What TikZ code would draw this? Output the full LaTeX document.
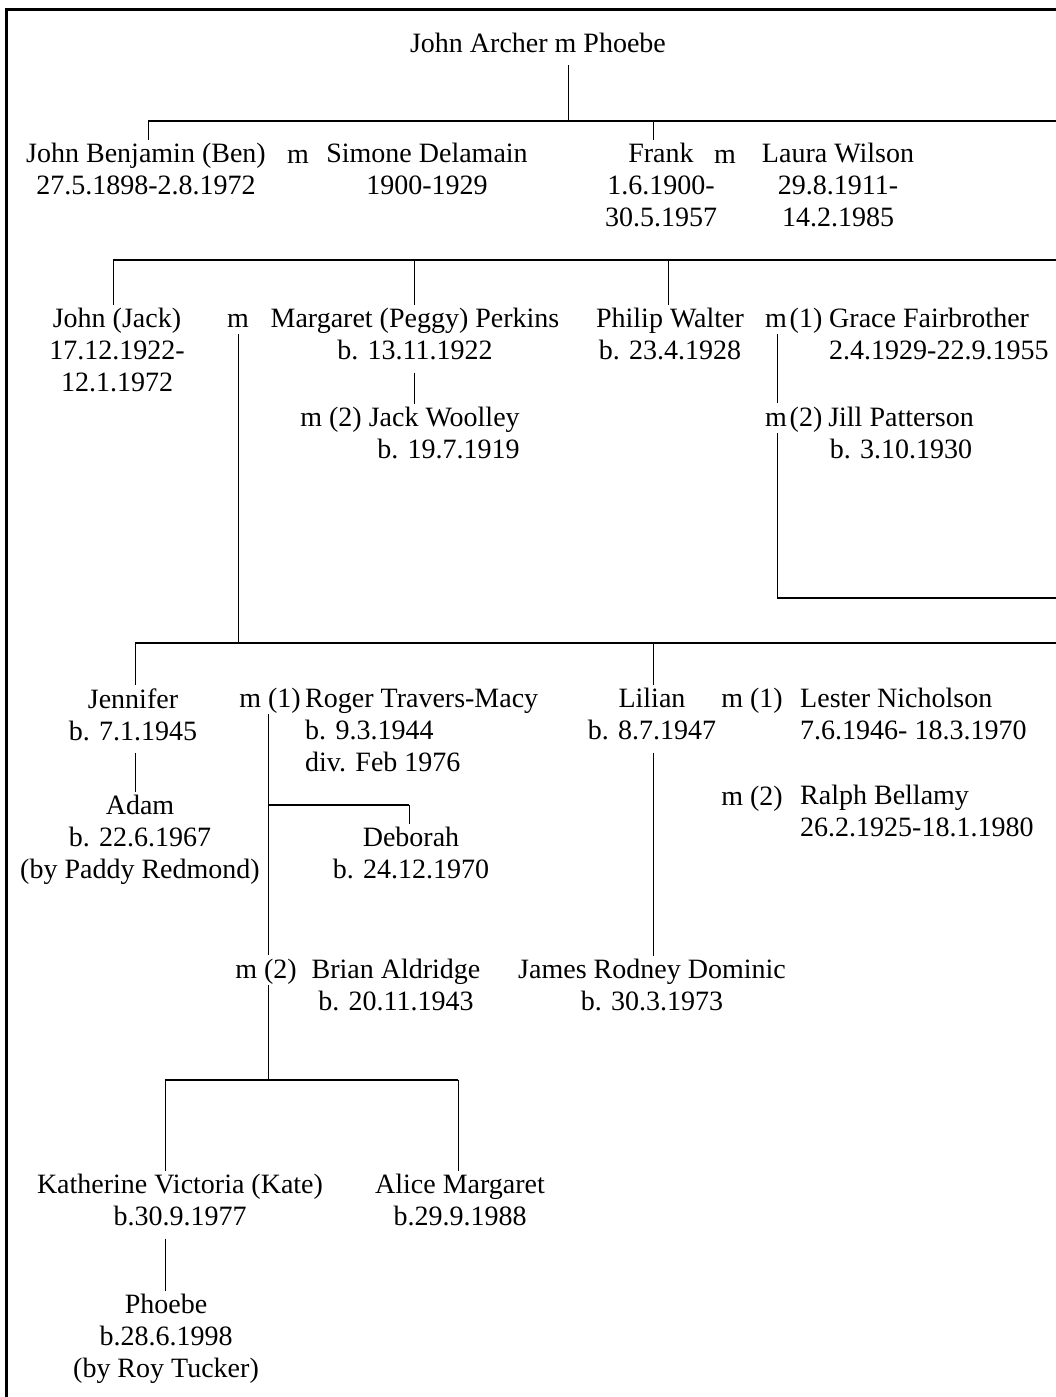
\documentclass[tikz,border=0pt]{standalone}
\usepackage{fontspec}
\setmainfont{Liberation Serif}
\usepackage{tikz}

\tikzset{
	person/.style={align=center, inner xsep=2pt, inner ysep=3pt, execute at end node=\strut},
	partner/.style={person, align=left, anchor=west},
	wed/.style={inner xsep=2pt, inner ysep=4pt, text height=19.4pt, text depth=2pt},
	bus/.style={line width=1.6pt},
	drop/.style={line width=0.9pt},
}

\begin{document}
\begin{tikzpicture}[x=1pt,y=-1pt,font=\fontsize{28}{32}\selectfont]
	\useasboundingbox (0,0) rectangle (1056,1397);
	\draw[line width=3pt] (6,1400) -- (6,10) -- (1060,10);

	\node[person] (archer) at (538,46) {John Archer m Phoebe};

	\node[person] (ben) at (146,174) {John Benjamin (Ben)\\27.5.1898-2.8.1972};
	\node[wed] (benm) at (298,155) {m};
	\node[person] (simone) at (427,174) {Simone Delamain\\1900-1929};
	\node[person] (frank) at (661,190) {Frank\\1.6.1900-\\30.5.1957};
	\node[wed] (frankm) at (725,155) {m};
	\node[person] (laura) at (838,190) {Laura Wilson\\29.8.1911-\\14.2.1985};

	\node[person] (jack) at (117,355) {John (Jack)\\17.12.1922-\\12.1.1972};
	\node[wed] (jackm) at (238,319) {m};
	\node[person] (peggy) at (415,339) {Margaret (Peggy) Perkins\\b. 13.11.1922};
	\node[person, align=right] (woolley) at (410,438) {m (2) Jack Woolley\\b. 19.7.1919};
	\node[person] (philip) at (670,339) {Philip Walter\\b. 23.4.1928};
	\node[wed] (philm1) at (776,319) {m};
	\node[wed] (philn1) at (806,319) {(1)};
	\node[partner] (grace) at (827,339) {Grace Fairbrother\\2.4.1929-22.9.1955};
	\node[wed] (philm2) at (776,418) {m};
	\node[wed] (philn2) at (806,418) {(2)};
	\node[person] (jill) at (901,438) {Jill Patterson\\b. 3.10.1930};

	\node[person] (jennifer) at (133,719) {Jennifer\\b. 7.1.1945};
	\node[wed] (jenm1) at (270,699) {m (1)};
	\node[partner] (roger) at (303,735) {Roger Travers-Macy\\b. 9.3.1944\\div. Feb 1976};
	\node[person] (adam) at (140,842) {Adam\\b. 22.6.1967\\(by Paddy Redmond)};
	\node[person] (deborah) at (411,858) {Deborah\\b. 24.12.1970};
	\node[wed] (jenm2) at (266,970) {m (2)};
	\node[person] (brian) at (396,990) {Brian Aldridge\\b. 20.11.1943};
	\node[person] (lilian) at (652,719) {Lilian\\b. 8.7.1947};
	\node[wed] (lilm1) at (752,699) {m (1)};
	\node[partner] (lester) at (798,719) {Lester Nicholson\\7.6.1946- 18.3.1970};
	\node[wed] (lilm2) at (752,797) {m (2)};
	\node[partner] (ralph) at (798,816) {Ralph Bellamy\\26.2.1925-18.1.1980};
	\node[person] (james) at (652,990) {James Rodney Dominic\\b. 30.3.1973};

	\node[person] (kate) at (180,1205) {Katherine Victoria (Kate)\\b.30.9.1977};
	\node[person] (alice) at (460,1205) {Alice Margaret\\b.29.9.1988};
	\node[person] (phoebe) at (166,1341) {Phoebe\\b.28.6.1998\\(by Roy Tucker)};

	\coordinate (top) at (568,121);
	\coordinate (d-ben) at (148,121);
	\coordinate (d-frank) at (653,121);
	\coordinate (top-end) at (1060,121);
	\draw[drop] (archer.south -| top) -- (top);
	\draw[bus] (d-ben) -- (top-end);
	\draw[drop] (d-ben) -- (d-ben |- ben.north);
	\draw[drop] (d-frank) -- (d-frank |- frank.north);

	\coordinate (d-jack) at (113,260);
	\coordinate (d-peggy) at (414,260);
	\coordinate (d-philip) at (668,260);
	\coordinate (mid-end) at (1060,260);
	\draw[bus] (d-jack) -- (mid-end);
	\draw[drop] (d-jack) -- (d-jack |- jack.north);
	\draw[drop] (d-peggy) -- (d-peggy |- peggy.north);
	\draw[drop] (d-philip) -- (d-philip |- philip.north);
	\draw[drop] (peggy.south -| d-peggy) -- (woolley.north -| d-peggy);

	\coordinate (phil-corner) at (777,598);
	\coordinate (phil-end) at (1060,598);
	\draw[drop] (philm1.south -| phil-corner) -- (philm2.north -| phil-corner);
	\draw[drop] (philm2.south -| phil-corner) -- (phil-corner);
	\draw[bus] (phil-corner) -- (phil-end);

	\coordinate (low) at (238,643);
	\coordinate (d-jennifer) at (135,643);
	\coordinate (d-lilian) at (653,643);
	\coordinate (low-end) at (1060,643);
	\draw[drop] (jackm.south) -- (low);
	\draw[bus] (d-jennifer) -- (low-end);
	\draw[drop] (d-jennifer) -- (d-jennifer |- jennifer.north);
	\draw[drop] (d-lilian) -- (d-lilian |- lilian.north);
	\draw[drop] (jennifer.south -| d-jennifer) -- (adam.north -| d-jennifer);
	\draw[drop] (lilian.south -| d-lilian) -- (james.north -| d-lilian);

	\coordinate (jen-line) at (268,805);
	\coordinate (d-deborah) at (409,805);
	\draw[drop] (jenm1.south -| jen-line) -- (jenm2.north -| jen-line);
	\draw[bus] (jen-line) -- (d-deborah);
	\draw[drop] (d-deborah) -- (d-deborah |- deborah.north);

	\coordinate (kids) at (268,1080);
	\coordinate (d-kate) at (165,1080);
	\coordinate (d-alice) at (458,1080);
	\draw[drop] (jenm2.south -| kids) -- (kids);
	\draw[bus] (d-kate) -- (d-alice);
	\draw[drop] (d-kate) -- (d-kate |- kate.north);
	\draw[drop] (d-alice) -- (d-alice |- alice.north);
	\draw[drop] (kate.south -| d-kate) -- (phoebe.north -| d-kate);
\end{tikzpicture}
\end{document}
